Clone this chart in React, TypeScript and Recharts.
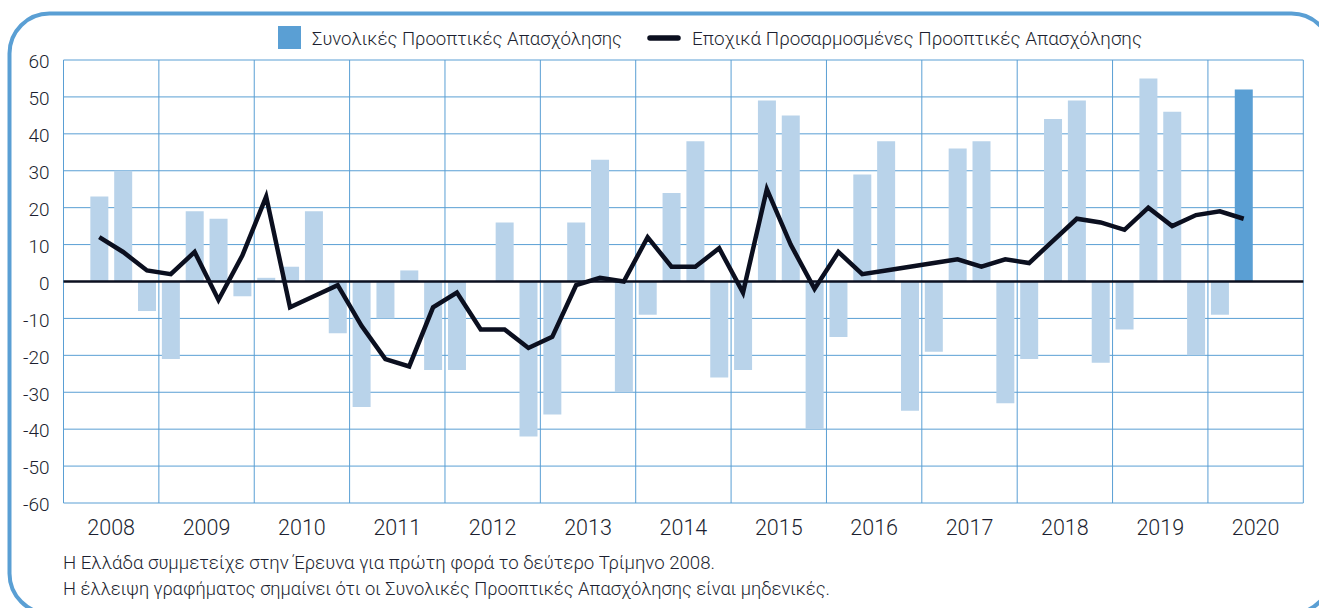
import React from 'react'
import {
  Bar,
  CartesianGrid,
  Cell,
  ComposedChart,
  Legend,
  Line,
  ReferenceLine,
  XAxis,
  YAxis,
} from 'recharts'

const years = [2008, 2009, 2010, 2011, 2012, 2013, 2014, 2015, 2016, 2017, 2018, 2019, 2020]

const quarters = [
  '2008-Q2', '2008-Q3', '2008-Q4',
  '2009-Q1', '2009-Q2', '2009-Q3', '2009-Q4',
  '2010-Q1', '2010-Q2', '2010-Q3', '2010-Q4',
  '2011-Q1', '2011-Q2', '2011-Q3', '2011-Q4',
  '2012-Q1', '2012-Q2', '2012-Q3', '2012-Q4',
  '2013-Q1', '2013-Q2', '2013-Q3', '2013-Q4',
  '2014-Q1', '2014-Q2', '2014-Q3', '2014-Q4',
  '2015-Q1', '2015-Q2', '2015-Q3', '2015-Q4',
  '2016-Q1', '2016-Q2', '2016-Q3', '2016-Q4',
  '2017-Q1', '2017-Q2', '2017-Q3', '2017-Q4',
  '2018-Q1', '2018-Q2', '2018-Q3', '2018-Q4',
  '2019-Q1', '2019-Q2', '2019-Q3', '2019-Q4',
  '2020-Q1', '2020-Q2',
]

// Συνολικές Προοπτικές Απασχόλησης
const totalOutlook = [
  23, 30, -8,
  -21, 19, 17, -4,
  1, 4, 19, -14,
  -34, -10, 3, -24,
  -24, 0, 16, -42,
  -36, 16, 33, -30,
  -9, 24, 38, -26,
  -24, 49, 45, -40,
  -15, 29, 38, -35,
  -19, 36, 38, -33,
  -21, 44, 49, -22,
  -13, 55, 46, -20,
  -9, 52,
]

// Εποχικά Προσαρμοσμένες Προοπτικές Απασχόλησης
const seasonalOutlook = [
  12, 8, 3,
  2, 8, -5, 7,
  23, -7, -4, -1,
  -12, -21, -23, -7,
  -3, -13, -13, -18,
  -15, -1, 1, 0,
  12, 4, 4, 9,
  -3, 25, 10, -2,
  8, 2, 3, 4,
  5, 6, 4, 6,
  5, 11, 17, 16,
  14, 20, 15, 18,
  19, 17,
]

const yTicks = [-60, -50, -40, -30, -20, -10, 0, 10, 20, 30, 40, 50, 60]

const notes = [
  'Η Ελλάδα συμμετείχε στην Έρευνα για πρώτη φορά το δεύτερο Τρίμηνο 2008.',
  'Η έλλειψη γραφήματος σημαίνει ότι οι Συνολικές Προοπτικές Απασχόλησης είναι μηδενικές.',
]

const ink = '#1c1f30'
const blue = '#5a9fd4'
const lightBlue = '#b9d3ea'
const font = 'Roboto, "Liberation Sans", sans-serif'
const weight = 300

const data = quarters.map((q, i) => {
  const [y, n] = q.split('-Q')
  return {
    pos: Number(y) + (Number(n) - 0.5) / 4,
    total: totalOutlook[i],
    seasonal: seasonalOutlook[i],
  }
})

function YTick(props: any) {
  const { x, y, payload } = props
  return (
    <text x={x} y={y} dy={8.3} textAnchor="end" fontSize={19} fontWeight={weight} fill={ink} fontFamily={font}>
      {payload.value}
    </text>
  )
}

function XTick(props: any) {
  const { x, y, payload } = props
  return (
    <text x={x} y={y} dy={32} textAnchor="middle" fontSize={21.5} fontWeight={weight} fill={ink} fontFamily={font}>
      {Math.floor(payload.value)}
    </text>
  )
}

function LegendContent(props: any) {
  const payload = props.payload || []
  const bar = payload.find((p: any) => p.type !== 'line')
  const line = payload.find((p: any) => p.type === 'line')
  return (
    <svg width={900} height={44} style={{ display: 'block' }}>
      {bar && (
        <g>
          <rect x={8} y={14} width={23} height={23} fill={bar.color} />
          <text x={42} y={33} fontSize={19} fontWeight={weight} fill={ink} fontFamily={font} textLength={310} lengthAdjust="spacingAndGlyphs">
            {bar.value}
          </text>
        </g>
      )}
      {line && (
        <g>
          <line x1={380} y1={26} x2={408} y2={26} stroke={line.color} strokeWidth={5.5} strokeLinecap="round" />
          <text x={422} y={33} fontSize={19} fontWeight={weight} fill={ink} fontFamily={font} textLength={450} lengthAdjust="spacingAndGlyphs">
            {line.value}
          </text>
        </g>
      )}
    </svg>
  )
}

export default function App(): React.ReactElement {
  return (
    <div style={{ position: 'absolute', left: 0, top: 0, width: 1319, height: 608, background: '#fff' }}>
      <ComposedChart
        width={1319}
        height={608}
        data={data}
        margin={{ top: 60, right: 15.7, bottom: 75, left: 13.5 }}
      >
        <XAxis
          dataKey="pos"
          type="number"
          domain={[2008, 2021]}
          ticks={years.map((y) => y + 0.5)}
          interval={0}
          axisLine={false}
          tickLine={false}
          tickSize={0}
          tickMargin={0}
          tick={<XTick />}
          height={30}
        />
        <XAxis
          xAxisId="grid"
          dataKey="pos"
          type="number"
          domain={[2008, 2021]}
          ticks={[...years, 2021]}
          hide
        />
        <YAxis
          type="number"
          domain={[-60, 60]}
          ticks={yTicks}
          interval={0}
          axisLine={false}
          tickLine={false}
          tickSize={0}
          tickMargin={14}
          width={50}
          tick={<YTick />}
        />
        <CartesianGrid xAxisId="grid" stroke={blue} strokeWidth={1} />
        <Legend
          verticalAlign="middle"
          align="center"
          layout="horizontal"
          wrapperStyle={{ top: 12, left: 270, width: 900, height: 44 }}
          content={<LegendContent />}
        />
        <Bar
          dataKey="total"
          name="Συνολικές Προοπτικές Απασχόλησης"
          fill={blue}
          barSize={18}
          isAnimationActive={false}
        >
          {data.map((d, i) => (
            <Cell key={`cell-${i}`} fill={i === data.length - 1 ? blue : lightBlue} />
          ))}
        </Bar>
        <ReferenceLine y={0} stroke="#0b0f1f" strokeWidth={2.5} />
        <Line
          dataKey="seasonal"
          name="Εποχικά Προσαρμοσμένες Προοπτικές Απασχόλησης"
          stroke="#0b0f1f"
          strokeWidth={4.5}
          dot={false}
          activeDot={false}
          legendType="line"
          isAnimationActive={false}
        />
      </ComposedChart>
      <svg
        width={1319}
        height={608}
        style={{ position: 'absolute', left: 0, top: 0, pointerEvents: 'none' }}
      >
        <rect x={9.5} y={13.5} width={1322} height={600} rx={40} fill="none" stroke={blue} strokeWidth={4} />
        <text x={63} y={569} fontSize={18.5} fontWeight={weight} fill={ink} fontFamily={font} textLength={652} lengthAdjust="spacingAndGlyphs">
          {notes[0]}
        </text>
        <text x={63} y={595} fontSize={18.5} fontWeight={weight} fill={ink} fontFamily={font} textLength={767} lengthAdjust="spacingAndGlyphs">
          {notes[1]}
        </text>
      </svg>
    </div>
  )
}
